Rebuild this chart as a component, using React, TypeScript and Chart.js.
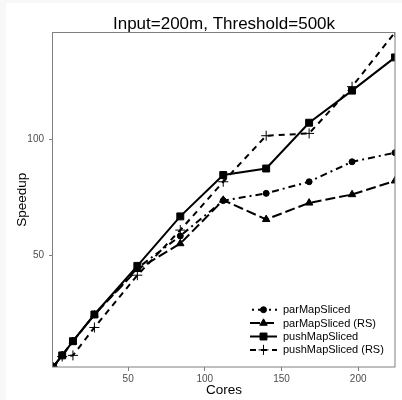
import React, { useEffect, useRef } from 'react';
import { Chart, registerables } from 'chart.js';
import { drawPoint } from 'chart.js/helpers';

Chart.register(...registerables);

const titleText = 'Input=200m, Threshold=500k';
const xTitle = 'Cores';
const yTitle = 'Speedup';

const cores = [1, 7, 14, 28, 56, 84, 112, 140, 168, 196, 224];
const parMapSliced = [2, 7, 13, 24.5, 44.5, 58.4, 73.6, 76.7, 81.7, 90.3, 94.2];
const parMapSlicedRS = [2, 7, 13, 24.5, 44, 55.1, 73.8, 65.5, 72.6, 76.2, 82.1];
const pushMapSliced = [2, 7.0, 13.1, 24.6, 45.5, 66.8, 84.6, 87.4, 107.1, 120.9, 135.2];
const pushMapSlicedRS = [2, 6.5, 7.0, 19.0, 41.5, 60.9, 81.7, 101.5, 102.5, 122.6, 146];

const seriesNames = ['parMapSliced', 'parMapSliced (RS)', 'pushMapSliced', 'pushMapSliced (RS)'];
const xTicks = [50, 100, 150, 200];
const yTicks = [50, 100];
const xRange = [1, 224];
const yRange = [2, 146];

const FONT = "'Liberation Sans', Arial, Helvetica, sans-serif";

export default function App() {
  const ref = useRef<HTMLCanvasElement | null>(null);

  useEffect(() => {
    if (!ref.current) return;
    Chart.defaults.font.family = FONT;

    const mk = (arr: number[]) => arr.map((v, i) => ({ x: cores[i], y: v }));
    const styles = [
      { dash: [7, 4, 2, 4], legendOffset: 9, pointStyle: 'circle', radius: 3, pbw: 1 },
      { dash: [10, 4], legendOffset: 0, pointStyle: 'triangle', radius: 4.3, pbw: 1 },
      { dash: [], legendOffset: 0, pointStyle: 'rect', radius: 4.9, pbw: 1 },
      { dash: [6, 5], legendOffset: 0, pointStyle: 'cross', radius: 5, pbw: 1 },
    ];
    const values = [parMapSliced, parMapSlicedRS, pushMapSliced, pushMapSlicedRS];

    const datasets = values.map((v, i) => ({
      label: seriesNames[i],
      data: mk(v),
      borderColor: '#000',
      backgroundColor: '#000',
      borderWidth: 2,
      borderDash: styles[i].dash,
      pointStyle: styles[i].pointStyle as any,
      pointRadius: styles[i].radius,
      pointBackgroundColor: '#000',
      pointBorderColor: '#000',
      pointBorderWidth: styles[i].pbw,
      tension: 0,
      fill: false,
      clip: 0,
    }));

    const bgPlugin = {
      id: 'bg',
      beforeDraw(chart: any) {
        const { ctx, width, height } = chart;
        ctx.save();
        ctx.fillStyle = '#f8f8f8';
        ctx.fillRect(0, 0, width, height);
        ctx.fillStyle = '#ffffff';
        ctx.fillRect(6, 3, width - 6, height - 3);
        ctx.restore();
      },
    };

    const borderPlugin = {
      id: 'panelBorder',
      afterDatasetsDraw(chart: any) {
        const { ctx, chartArea: a } = chart;
        ctx.save();
        ctx.strokeStyle = '#7f7f7f';
        ctx.lineWidth = 1;
        ctx.setLineDash([]);
        ctx.strokeRect(Math.round(a.left) - 0.5, Math.round(a.top) + 0.5, Math.round(a.right - a.left) + 0.5, Math.round(a.bottom - a.top) - 0.5);
        ctx.restore();
      },
    };

    const legendPlugin = {
      id: 'customLegend',
      afterDraw(chart: any) {
        const { ctx } = chart;
        ctx.save();
        chart.data.datasets.forEach((ds: any, i: number) => {
          const y = 309.7 + i * 13.4;
          ctx.strokeStyle = '#000';
          ctx.lineWidth = 2;
          ctx.setLineDash(ds.borderDash || []);
          ctx.lineDashOffset = styles[i].legendOffset;
          ctx.beginPath();
          ctx.moveTo(250, y);
          ctx.lineTo(277, y);
          ctx.stroke();
          ctx.setLineDash([]);
          ctx.lineDashOffset = 0;
          ctx.fillStyle = '#000';
          ctx.lineWidth = ds.pointBorderWidth;
          drawPoint(ctx, { pointStyle: ds.pointStyle, radius: ds.pointRadius, rotation: 0, borderWidth: ds.pointBorderWidth }, 263.5, y);
          ctx.fillStyle = '#000';
          ctx.font = `11px ${FONT}`;
          ctx.textAlign = 'left';
          ctx.textBaseline = 'middle';
          ctx.fillText(ds.label, 283, y + 0.5);
        });
        ctx.restore();
      },
    };

    const chart = new Chart(ref.current, {
      type: 'line',
      data: { datasets },
      plugins: [bgPlugin, borderPlugin, legendPlugin],
      options: {
        responsive: false,
        animation: false,
        devicePixelRatio: 1,
        layout: { padding: { top: 17, right: 7, left: 0, bottom: 0 } },
        plugins: {
          legend: { display: false },
          tooltip: { enabled: false },
          title: {
            display: true,
            text: titleText,
            fullSize: false,
            color: '#000',
            font: { size: 17, family: FONT, weight: 'normal', lineHeight: 0.9 },
            padding: { top: 0, bottom: 0 },
          },
        },
        scales: {
          x: {
            type: 'linear',
            min: xRange[0],
            max: xRange[1],
            afterBuildTicks: (s: any) => { s.ticks = xTicks.map((v) => ({ value: v })); },
            afterFit: (s: any) => { s.height = 33; },
            grid: { drawOnChartArea: false, drawTicks: true, tickLength: 4, color: '#7f7f7f', lineWidth: 1 },
            border: { display: false },
            ticks: { font: { size: 10, family: FONT }, color: '#4d4d4d', padding: 2, maxRotation: 0 },
            title: { display: true, text: xTitle, color: '#000', font: { size: 13.5, family: FONT }, padding: { top: 0, bottom: 2 } },
          },
          y: {
            type: 'linear',
            min: yRange[0],
            max: yRange[1],
            afterBuildTicks: (s: any) => { s.ticks = yTicks.map((v) => ({ value: v })); },
            afterFit: (s: any) => { s.width = 53; },
            grid: { drawOnChartArea: false, drawTicks: true, tickLength: 4, color: '#7f7f7f', lineWidth: 1 },
            border: { display: false },
            ticks: { font: { size: 10, family: FONT }, color: '#4d4d4d', padding: 5 },
            title: { display: true, text: yTitle, color: '#000', font: { size: 13.5, family: FONT }, padding: { top: 14, bottom: 0 } },
          },
        },
      } as any,
    });
    return () => chart.destroy();
  }, []);

  return (
    <div style={{ position: 'fixed', left: 0, top: 0, width: 402, height: 400 }}>
      <canvas ref={ref} width={402} height={400} style={{ width: 402, height: 400, display: 'block' }} />
    </div>
  );
}
